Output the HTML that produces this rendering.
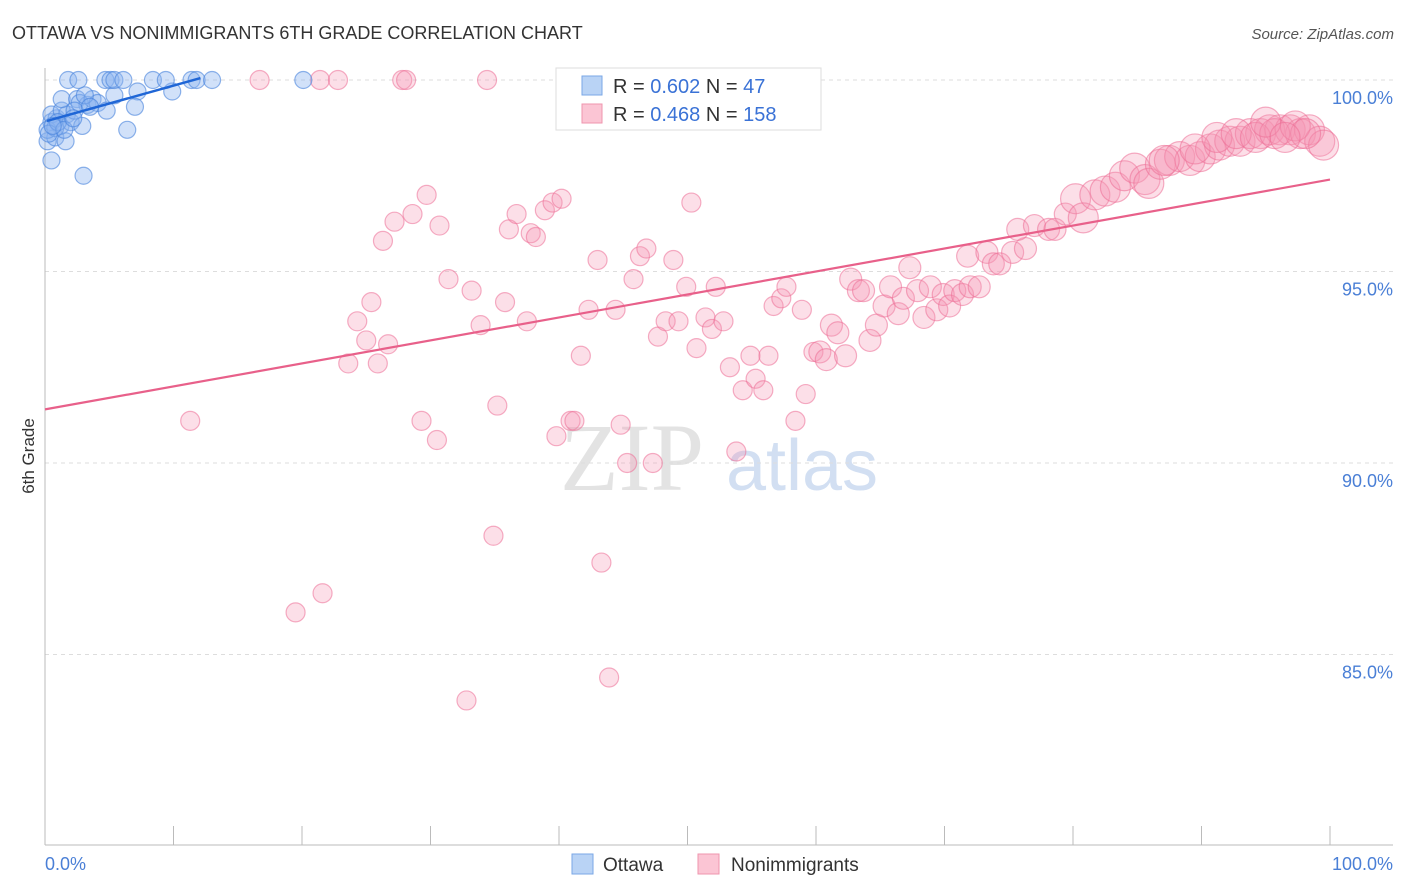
<!DOCTYPE html>
<html><head><meta charset="utf-8"><style>
body{margin:0;background:#fff;font-family:"Liberation Sans",sans-serif}
svg{display:block}
</style></head><body>
<svg id="chart" width="1406" height="892" xmlns="http://www.w3.org/2000/svg" font-family="Liberation Sans, sans-serif">
<text x="12" y="39" font-size="18" fill="#333">OTTAWA VS NONIMMIGRANTS 6TH GRADE CORRELATION CHART</text>
<text x="1394" y="39" font-size="15" fill="#555" text-anchor="end" font-style="italic">Source: ZipAtlas.com</text>
<g>
<text x="632" y="490" font-size="96" fill="#ddd" text-anchor="middle" font-family="Liberation Serif, serif" opacity="0.8">ZIP</text>
<text x="802" y="490" font-size="72" fill="#c8d8f0" text-anchor="middle" opacity="0.8">atlas</text>
</g>
<g id="grid"></g>
<g id="axes"></g>
<g id="pts"></g>
<g id="lines"></g>
<text transform="translate(34,456) rotate(-90)" font-size="17" fill="#333" text-anchor="middle">6th Grade</text>
<text x="45" y="870" font-size="18" fill="#4a7fd6">0.0%</text>
<text x="1393" y="870" font-size="18" fill="#4a7fd6" text-anchor="end">100.0%</text>
<g>
<rect x="556" y="68" width="265" height="62" fill="#fff" stroke="#ddd"/>
<rect x="582" y="76" width="20" height="19" fill="#b9d3f5" stroke="#7aa7e6"/>
<rect x="582" y="104" width="20" height="19" fill="#fbc5d4" stroke="#ef95ae"/>
<text x="613" y="93" font-size="20" fill="#333">R = <tspan fill="#3a72d6">0.602</tspan>   N =  <tspan fill="#3a72d6">47</tspan></text>
<text x="613" y="121" font-size="20" fill="#333">R = <tspan fill="#3a72d6">0.468</tspan>   N = <tspan fill="#3a72d6">158</tspan></text>
</g>
<g>
<rect x="572" y="854" width="21" height="20" fill="#b9d3f5" stroke="#7aa7e6"/>
<text x="603" y="871" font-size="19" fill="#333">Ottawa</text>
<rect x="698" y="854" width="21" height="20" fill="#fbc5d4" stroke="#ef95ae"/>
<text x="731" y="871" font-size="19" fill="#333">Nonimmigrants</text>
</g>
</svg>
<script>
const yTicks=[100,95,90,85];
const yTickLabels=["100.0%","95.0%","90.0%","85.0%"];
const xTicks=[0,10,20,30,40,50,60,70,80,90,100];
const blueX=[0.5,3.0,6.4,0.2,0.8,1.6,1.2,0.5,0.9,1.7,2.0,2.9,0.5,1.3,1.3,2.5,3.3,2.7,3.7,4.1,4.8,5.4,3.1,7.2,7.0,9.9,1.8,2.6,4.7,5.1,5.4,6.1,8.4,9.4,11.4,11.8,13.0,20.1,0.2,0.8,2.3,3.5,0.3,1.0,1.5,2.2,0.6];
const blueY=[97.9,97.5,98.7,98.4,98.5,98.4,98.8,98.9,99.0,99.1,98.9,98.8,99.1,99.2,99.5,99.5,99.35,99.4,99.5,99.4,99.2,99.6,99.6,99.7,99.3,99.7,100,100,100,100,100,100,100,100,100,100,100,100,98.7,98.75,99.2,99.3,98.6,98.9,98.7,99.0,98.8];
const pinkX=[11.3,16.7,21.4,22.8,27.8,28.1,34.4,19.5,21.6,32.8,34.9,43.3,43.9,23.6,25.9,24.3,25.4,25.0,26.7,26.3,27.2,28.6,29.7,30.7,31.4,33.2,33.9,35.8,36.1,36.7,37.5,37.8,38.2,38.9,39.5,40.2,29.3,30.5,35.2,39.8,40.9,41.2,41.7,42.3,43.0,44.4,44.8,45.3,45.8,46.3,46.8,47.3,47.7,48.3,48.9,49.3,49.9,50.3,50.7,51.4,51.9,52.2,52.8,53.3,53.8,54.3,54.9,55.3,55.9,56.3,56.7,57.3,57.7,58.4,58.9,59.2,59.8,60.3,60.8,61.2,61.7,62.3,62.7,63.3,63.7,64.2,64.7,65.3,65.8,66.4,66.8,67.3,67.9,68.4,68.9,69.4,69.9,70.4,70.8,71.4,72.0,72.7,71.8,73.3,73.8,74.3,75.3,76.3,75.7,77.0,78.1,78.6,79.4,80.2,80.8,81.7,82.5,83.3,84.0,84.8,85.6,85.9,86.8,87.5,88.3,89.1,89.9,90.7,91.4,92.2,93.0,93.8,94.6,95.3,96.1,96.9,97.7,98.4,99.2,99.5,87.1,89.5,91.2,92.7,94.2,95.7,97.3,98.1,95.0,96.5];
const pinkY=[91.1,100,100,100,100,100,100,86.1,86.6,83.8,88.1,87.4,84.4,92.6,92.6,93.7,94.2,93.2,93.1,95.8,96.3,96.5,97.0,96.2,94.8,94.5,93.6,94.2,96.1,96.5,93.7,96.0,95.9,96.6,96.8,96.9,91.1,90.6,91.5,90.7,91.1,91.1,92.8,94.0,95.3,94.0,91.0,90.0,94.8,95.4,95.6,90.0,93.3,93.7,95.3,93.7,94.6,96.8,93.0,93.8,93.5,94.6,93.7,92.5,90.3,91.9,92.8,92.2,91.9,92.8,94.1,94.3,94.6,91.1,94.0,91.8,92.9,92.9,92.7,93.6,93.4,92.8,94.8,94.5,94.5,93.2,93.6,94.1,94.6,93.9,94.3,95.1,94.5,93.8,94.6,94.0,94.4,94.1,94.5,94.4,94.6,94.6,95.4,95.5,95.2,95.2,95.5,95.6,96.1,96.2,96.1,96.1,96.5,96.9,96.4,97.0,97.1,97.2,97.5,97.7,97.4,97.3,97.8,97.9,98.0,97.9,98.0,98.2,98.3,98.4,98.4,98.6,98.6,98.7,98.7,98.7,98.6,98.7,98.4,98.3,97.9,98.2,98.5,98.6,98.5,98.6,98.8,98.6,98.9,98.5];
const blueTrendX=[0.15,12.1];
const blueTrendY=[98.93,100.05];
const pinkTrendX=[0,100];
const pinkTrendY=[91.4,97.4];
const NS="http://www.w3.org/2000/svg";
function sx(v){return 45+v*12.85;}
function sy(v){return 80+(100-v)*38.3;}
function mk(tag,attrs,parent){const e=document.createElementNS(NS,tag);for(const k in attrs)e.setAttribute(k,attrs[k]);parent.appendChild(e);return e;}
const grid=document.getElementById('grid'),axes=document.getElementById('axes'),pts=document.getElementById('pts'),lines=document.getElementById('lines');
yTicks.forEach((t,i)=>{
 const l=mk('line',{x1:45,x2:1393,y1:sy(t),y2:sy(t),stroke:'#ddd','stroke-dasharray':'4,4'},grid);
 
 
 const tx=mk('text',{x:1393,y:sy(t)+24,'font-size':18,fill:'#4a7fd6','text-anchor':'end'},axes);
 tx.textContent=yTickLabels[i];
 
 
});
const ya=mk('line',{x1:45,x2:45,y1:68,y2:845,stroke:'#bbb'},axes);


const xa=mk('line',{x1:45,x2:1393,y1:845,y2:845,stroke:'#bbb'},axes);


xTicks.forEach(t=>{
 const l=mk('line',{x1:sx(t),x2:sx(t),y1:826,y2:845,stroke:'#bbb'},axes);
 
 
});
pinkX.forEach((x,i)=>{
 const r=x>80?15:(x>60?11:9.5);
 const c=mk('circle',{cx:sx(x),cy:sy(pinkY[i]),r:r,fill:'rgba(246,150,180,0.3)',stroke:'rgba(236,110,150,0.55)','stroke-width':1.2},pts);
 
 
});
blueX.forEach((x,i)=>{
 const c=mk('circle',{cx:sx(x),cy:sy(blueY[i]),r:8.5,fill:'rgba(140,180,240,0.4)',stroke:'rgba(70,130,220,0.6)','stroke-width':1.2},pts);
 
 
});
const pl=mk('line',{x1:sx(pinkTrendX[0]),y1:sy(pinkTrendY[0]),x2:sx(pinkTrendX[1]),y2:sy(pinkTrendY[1]),stroke:'#e8608a','stroke-width':2.2},lines);


const bl=mk('line',{x1:sx(blueTrendX[0]),y1:sy(blueTrendY[0]),x2:sx(blueTrendX[1]),y2:sy(blueTrendY[1]),stroke:'#1f66d6','stroke-width':2.5},lines);


</script>
</body></html>
